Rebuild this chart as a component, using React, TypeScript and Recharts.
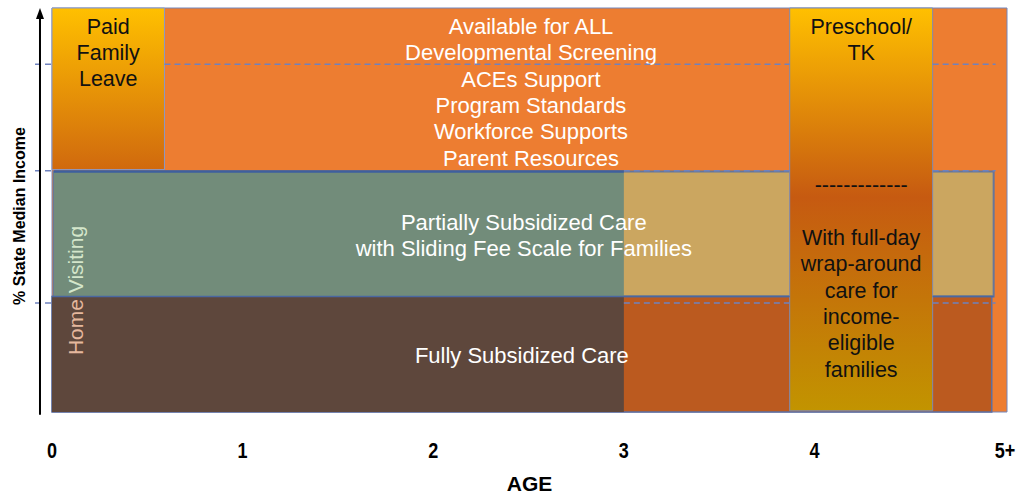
import React from 'react';
import { ComposedChart, XAxis, YAxis, ReferenceArea, ReferenceLine } from 'recharts';

// ---- axis data ----
const ageTicks = [0, 1, 2, 3, 4, 5];
const ageTickLabels = ['0', '1', '2', '3', '4', '5+'];
const ageDomain = [0, 5.01];
const incomeDomain = [0, 100];

// ---- bands: [ageStart, ageEnd] and [incomeLow, incomeHigh] ----
const allAges = [0, 5.01];
const allIncome = [0, 100];
const pflAges = [0, 0.59];
const pflIncome = [60, 100];
const partialAges = [0.01, 4.94];
const partialIncome = [28.6, 59.5];
const fullAges = [0, 4.93];
const fullIncome = [0, 28.6];
const infantPartialAges = [0.01, 3.0];
const infantPartialIncome = [28.6, 59.5];
const infantFullAges = [0, 3.0];
const infantFullIncome = [0, 28.6];
const preschoolAges = [3.87, 4.62];
const preschoolIncome = [0.3, 100];

// dashed income thresholds (upper, middle, lower)
const incomeThresholds = [86.1, 59.7, 27];
const thresholdAges = [-0.089, 4.95];
const arrowAge = -0.063;
const arrowIncome = [-0.7, 100];

// ---- text ----
const allLines = ['Available for ALL', 'Developmental Screening', 'ACEs Support', 'Program Standards', 'Workforce Supports', 'Parent Resources'];
const pflLines = ['Paid', 'Family', 'Leave'];
const partialLines = ['Partially Subsidized Care', 'with Sliding Fee Scale for Families'];
const fullLines = ['Fully Subsidized Care'];
const preschoolLines = ['Preschool/', 'TK', '', '', '', '', '-------------', '', 'With full-day', 'wrap-around', 'care for', 'income-', 'eligible', 'families'];
const homeVisitingWords = ['Home', 'Visiting'];

const FONT = "'Liberation Sans', Arial, sans-serif";
const LH = 26.4;

// visible spans of the dashed threshold lines (they pass behind the PFL / preschool / 0-3 blocks)
const thresholdSpans: number[][][] = [
  [[thresholdAges[0], allAges[0]], [pflAges[1], preschoolAges[0]], [preschoolAges[1], thresholdAges[1]]],
  [[thresholdAges[0], allAges[0]], [infantPartialAges[1], preschoolAges[0]], [preschoolAges[1], thresholdAges[1]]],
  [[thresholdAges[0], allAges[0]], [infantFullAges[1], preschoolAges[0]], [preschoolAges[1], thresholdAges[1]]],
];
const fullTopSpans = [[fullAges[0], preschoolAges[0]], [preschoolAges[1], partialAges[1]]];

type LabelOpts = { color: string; size: number; mode: 'top' | 'center'; dx?: number; dy?: number };

const makeBlockLabel = (lines: string[], opts: LabelOpts) => (props: any) => {
  const vb = props.viewBox || {};
  const cx = vb.x + vb.width / 2 + (opts.dx || 0);
  const first = opts.mode === 'top'
    ? vb.y + 18 + (opts.dy || 0)
    : vb.y + vb.height / 2 - ((lines.length - 1) * LH) / 2 + (opts.dy || 0);
  return (
    <g>
      {lines.map((l, i) =>
        l ? (
          <text key={i} x={cx} y={first + i * LH} dy="0.35em" textAnchor="middle" fill={opts.color} fontSize={opts.size} fontFamily={FONT}>
            {l}
          </text>
        ) : null
      )}
    </g>
  );
};

const homeVisitingLabel = (props: any) => {
  const vb = props.viewBox || {};
  const cx = vb.x + 24;
  const cy = vb.y - 6;
  return (
    <text x={cx} y={cy} dy="0.35em" textAnchor="middle" fontSize={21} fontFamily={FONT} transform={`rotate(-90 ${cx} ${cy})`} style={{ whiteSpace: 'pre' }}>
      <tspan fill="#E6B89E">{homeVisitingWords[0] + ' '}</tspan>
      <tspan fill="#D4E6CB">{homeVisitingWords[1]}</tspan>
    </text>
  );
};

const arrowShape = (p: any) => {
  const top = Math.min(p.y1, p.y2);
  const bottom = Math.max(p.y1, p.y2);
  const x = p.x1;
  return (
    <g>
      <line x1={x} y1={bottom} x2={x} y2={top + 8} stroke="#000" strokeWidth={2} />
      <polygon points={`${x - 4},${top + 11} ${x + 4},${top + 11} ${x},${top}`} fill="#000" />
    </g>
  );
};

const yLabel = (props: any) => {
  const vb = props.viewBox || {};
  const x = vb.x + 19;
  const y = vb.y + vb.height / 2 + 6;
  return (
    <text x={x} y={y} dy="0.35em" textAnchor="middle" fontSize={16} fontWeight="bold" fontFamily={FONT} fill="#000" transform={`rotate(-90 ${x} ${y})`}>
      % State Median Income
    </text>
  );
};

const xLabel = (props: any) => {
  const vb = props.viewBox || {};
  return (
    <text x={vb.x + vb.width / 2} y={vb.y + vb.height - 3} textAnchor="middle" fontSize={21} fontWeight="bold" fontFamily={FONT} fill="#000">
      AGE
    </text>
  );
};

// condensed bold tick labels (narrow face emulated by horizontal scaling)
const AgeTick = (props: any) => {
  const { x, y, payload } = props;
  const label = ageTickLabels[ageTicks.indexOf(payload.value)];
  return (
    <g transform={`translate(${x} ${y}) scale(0.82 1)`}>
      <text x={0} y={0} dy="0.71em" textAnchor="middle" fontSize={22} fontWeight="bold" fontFamily={FONT} fill="#000">
        {label}
      </text>
    </g>
  );
};

export default function App() {
  return (
    <div style={{ position: 'absolute', left: 0, top: 0, background: '#fff' }}>
      <ComposedChart width={1016} height={494} margin={{ top: 8, right: 9, bottom: 0, left: 0 }} data={[]}>
        <defs>
          <linearGradient id="pflGrad" x1="0" y1="0" x2="0" y2="1">
            <stop offset="0" stopColor="#FFC000" />
            <stop offset="1" stopColor="#D0690E" />
          </linearGradient>
          <linearGradient id="preGrad" x1="0" y1="0" x2="0" y2="1">
            <stop offset="0" stopColor="#FFC000" />
            <stop offset="0.47" stopColor="#C65A11" />
            <stop offset="1" stopColor="#C29400" />
          </linearGradient>
        </defs>
        <XAxis
          type="number"
          dataKey="age"
          domain={ageDomain}
          ticks={ageTicks}
          interval={0}
          allowDataOverflow
          height={82}
          axisLine={false}
          tickLine={false}
          tickSize={6}
          tickMargin={24}
          tick={<AgeTick />}
          label={xLabel}
        />
        <YAxis type="number" domain={incomeDomain} allowDataOverflow width={52} axisLine={false} tickLine={false} tick={false} label={yLabel} />

        <ReferenceArea x1={allAges[0]} x2={allAges[1]} y1={allIncome[0]} y2={allIncome[1]} fill="#ED7D31" fillOpacity={1} stroke="#7386BC" strokeWidth={1} ifOverflow="visible" />
        <ReferenceArea x1={partialAges[0]} x2={partialAges[1]} y1={partialIncome[0]} y2={partialIncome[1]} fill="#CBA660" fillOpacity={1} stroke="#66769A" strokeWidth={2} ifOverflow="visible" />
        <ReferenceArea x1={fullAges[0]} x2={fullAges[1]} y1={fullIncome[0]} y2={fullIncome[1]} fill="#BB5A1F" fillOpacity={1} stroke="#5E6FA0" strokeWidth={1.5} ifOverflow="visible" />
        <ReferenceArea x1={infantPartialAges[0]} x2={infantPartialAges[1]} y1={infantPartialIncome[0]} y2={infantPartialIncome[1]} fill="#728C7A" fillOpacity={1} stroke="none" ifOverflow="visible" />
        <ReferenceArea x1={infantFullAges[0]} x2={infantFullAges[1]} y1={infantFullIncome[0]} y2={infantFullIncome[1]} fill="#5E473C" fillOpacity={1} stroke="none" ifOverflow="visible" />
        <ReferenceArea x1={pflAges[0]} x2={pflAges[1]} y1={pflIncome[0]} y2={pflIncome[1]} fill="url(#pflGrad)" fillOpacity={1} stroke="#8A98C6" strokeWidth={1} ifOverflow="visible" label={makeBlockLabel(pflLines, { color: '#111', size: 21.5, mode: 'top' })} />
        <ReferenceArea x1={preschoolAges[0]} x2={preschoolAges[1]} y1={preschoolIncome[0]} y2={preschoolIncome[1]} fill="url(#preGrad)" fillOpacity={1} stroke="#7D8AB4" strokeWidth={1} ifOverflow="visible" label={makeBlockLabel(preschoolLines, { color: '#111', size: 21.5, mode: 'top' })} />

        {/* text layer for the bands */}
        <ReferenceArea x1={allAges[0]} x2={allAges[1]} y1={allIncome[0]} y2={allIncome[1]} fill="none" fillOpacity={0} stroke="none" ifOverflow="visible" label={makeBlockLabel(allLines, { color: '#fff', size: 22, mode: 'top', dx: 1.5 })} />
        <ReferenceArea x1={partialAges[0]} x2={partialAges[1]} y1={partialIncome[0]} y2={partialIncome[1]} fill="none" fillOpacity={0} stroke="none" ifOverflow="visible" label={makeBlockLabel(partialLines, { color: '#fff', size: 22, mode: 'center', dy: 1 })} />
        <ReferenceArea x1={fullAges[0]} x2={fullAges[1]} y1={fullIncome[0]} y2={fullIncome[1]} fill="none" fillOpacity={0} stroke="none" ifOverflow="visible" label={makeBlockLabel(fullLines, { color: '#fff', size: 22, mode: 'center', dy: 1 })} />
        <ReferenceArea x1={infantFullAges[0]} x2={infantFullAges[1]} y1={infantFullIncome[0]} y2={infantFullIncome[1]} fill="none" fillOpacity={0} stroke="none" ifOverflow="visible" label={homeVisitingLabel} />

        {incomeThresholds.map((t, i) =>
          thresholdSpans[i].map((s, j) => (
            <ReferenceLine key={`${i}-${j}`} segment={[{ x: s[0], y: t }, { x: s[1], y: t }]} stroke="#6F82BE" strokeWidth={1.5} strokeDasharray="6 4" ifOverflow="visible" />
          ))
        )}
        <ReferenceLine segment={[{ x: infantPartialAges[0], y: infantPartialIncome[1] }, { x: infantPartialAges[1], y: infantPartialIncome[1] }]} stroke="#3E5F9E" strokeWidth={2.5} ifOverflow="visible" />
        {fullTopSpans.map((s, j) => (
          <ReferenceLine key={`ft-${j}`} segment={[{ x: s[0], y: fullIncome[1] }, { x: s[1], y: fullIncome[1] }]} stroke="#4A67A0" strokeWidth={1.5} ifOverflow="visible" />
        ))}

        <ReferenceLine segment={[{ x: arrowAge, y: arrowIncome[0] }, { x: arrowAge, y: arrowIncome[1] }]} stroke="#000" ifOverflow="visible" shape={arrowShape} />
      </ComposedChart>
    </div>
  );
}
